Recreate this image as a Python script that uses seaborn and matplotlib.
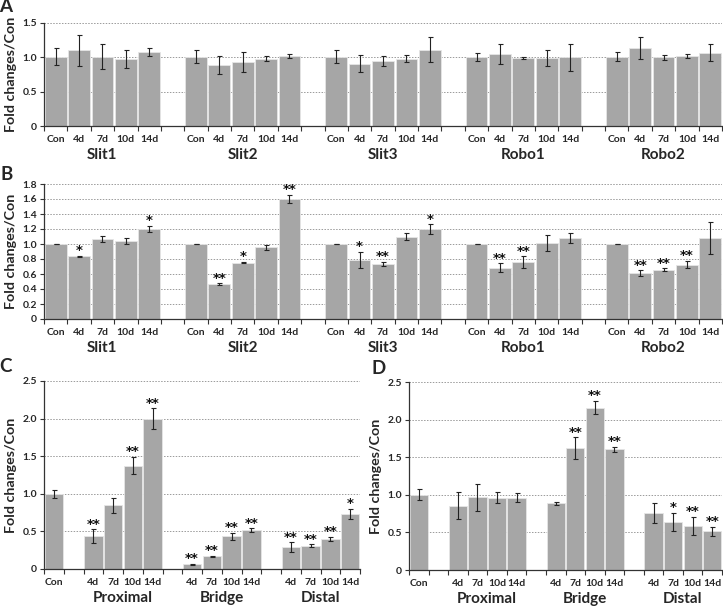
import matplotlib
matplotlib.use("Agg")
import matplotlib.pyplot as plt
import seaborn as sns
import pandas as pd
import numpy as np

sns.set_theme(style="white")
plt.rcParams['font.family'] = ['Lato', 'DejaVu Sans']
plt.rcParams['font.weight'] = 'bold'

# ---------------- data ----------------
time_points = ["Con", "4d", "7d", "10d", "14d"]
genes = ["Slit1", "Slit2", "Slit3", "Robo1", "Robo2"]

a_means = [1.01, 1.10, 1.01, 0.97, 1.08,
           1.01, 0.89, 0.93, 0.98, 1.02,
           1.01, 0.91, 0.95, 0.98, 1.11,
           1.01, 1.05, 0.99, 0.99, 1.00,
           1.01, 1.13, 1.00, 1.02, 1.07]
a_errs = [0.125, 0.22, 0.18, 0.13, 0.06,
          0.09, 0.13, 0.15, 0.035, 0.03,
          0.09, 0.13, 0.07, 0.055, 0.18,
          0.06, 0.14, 0.015, 0.11, 0.20,
          0.065, 0.16, 0.035, 0.03, 0.13]

b_means = [1.00, 0.836, 1.067, 1.04, 1.20,
           1.00, 0.467, 0.751, 0.956, 1.60,
           1.00, 0.787, 0.733, 1.098, 1.20,
           1.00, 0.684, 0.756, 1.013, 1.08,
           1.00, 0.609, 0.658, 0.724, 1.08]
b_errs = [0.005, 0.01, 0.045, 0.035, 0.04,
          0.005, 0.01, 0.01, 0.03, 0.055,
          0.005, 0.11, 0.03, 0.05, 0.065,
          0.005, 0.06, 0.08, 0.11, 0.065,
          0.005, 0.04, 0.02, 0.05, 0.21]
b_stars = ["", "*", "", "", "*",
           "", "**", "*", "", "**",
           "", "*", "**", "", "*",
           "", "**", "**", "", "",
           "", "**", "**", "**", ""]

regions = ["Proximal", "Bridge", "Distal"]
region_times = ["4d", "7d", "10d", "14d"]

c_con_mean, c_con_err = 1.00, 0.05
c_means = [0.438, 0.845, 1.376, 2.00,
           0.062, 0.168, 0.434, 0.518,
           0.288, 0.31, 0.403, 0.73]
c_errs = [0.09, 0.105, 0.115, 0.135,
          0.005, 0.01, 0.05, 0.025,
          0.065, 0.02, 0.025, 0.07]
c_stars = ["**", "", "**", "**",
           "**", "**", "**", "**",
           "**", "**", "**", "*"]

d_con_mean, d_con_err = 1.00, 0.075
d_means = [0.854, 0.965, 0.96, 0.96,
           0.885, 1.62, 2.159, 1.606,
           0.757, 0.637, 0.584, 0.513]
d_errs = [0.177, 0.18, 0.075, 0.06,
          0.02, 0.145, 0.09, 0.035,
          0.13, 0.12, 0.12, 0.065]
d_stars = ["", "", "", "",
           "", "**", "**", "**",
           "", "*", "**", "**"]

BAR = "#a6a6a6"
W, H = 723, 606


def ax_rect(left, right, top, bottom):
    return [left / W, (H - bottom) / H, (right - left) / W, (bottom - top) / H]


def draw_panel(ax, order, keys, labels, means, errs, stars, groups,
               ylim, yticks, yticklabels):
    df = pd.DataFrame({"key": keys, "mean": means})
    sns.barplot(data=df, x="key", y="mean", order=order, color=BAR,
                saturation=1, width=0.93, edgecolor="#e6e6e6", linewidth=0.6,
                errorbar=None, ax=ax)
    pos = np.array([order.index(k) for k in keys])
    ax.errorbar(pos, means, yerr=errs, fmt="none", ecolor="#222222",
                elinewidth=0.8, capsize=1.8, capthick=0.8, zorder=5)
    for p, m, e, s in zip(pos, means, errs, stars):
        if s:
            ax.annotate(s, xy=(p, m + e), xytext=(0, -1.0),
                        textcoords="offset points", ha="center",
                        va="bottom", fontsize=9.5, fontweight="bold",
                        family="DejaVu Sans", color="#111111")
    n = len(order)
    ax.set_xlim(-0.5, n - 0.5)
    ax.set_ylim(*ylim)
    ax.set_yticks(yticks)
    ax.set_yticklabels(yticklabels, fontsize=7.5, fontweight="bold")
    for y in yticks[1:]:
        ax.axhline(y, color="#9a9a9a", lw=0.7, ls=(0, (1.5, 1.5)), zorder=0)
    ax.set_xticks(np.arange(-0.5, n, 1.0))
    ax.set_xticklabels([])
    ax.set_xticks(pos, minor=True)
    ax.set_xticklabels(labels, minor=True, fontsize=7.5, fontweight="bold")
    ax.tick_params(axis="x", which="major", length=3.5, width=0.8,
                   direction="out", bottom=True, color="#333333")
    ax.tick_params(axis="x", which="minor", length=0, pad=6.5)
    ax.tick_params(axis="y", length=3, width=0.8, direction="out", left=True,
                   color="#333333", pad=2)
    ax.set_xlabel("")
    ax.set_ylabel("Fold changes/Con", fontsize=10.3, fontweight="bold",
                  labelpad=4)
    for sp in ["top", "right"]:
        ax.spines[sp].set_visible(False)
    for sp in ["left", "bottom"]:
        ax.spines[sp].set_color("#333333")
        ax.spines[sp].set_linewidth(0.9)
    for name, center in groups:
        ax.annotate(name, xy=(center, 0), xycoords=ax.get_xaxis_transform(),
                    xytext=(0, -21), textcoords="offset points",
                    ha="center", va="center", fontsize=11,
                    fontweight="bold")


fig = plt.figure(figsize=(W / 100, H / 100), dpi=100)

# ---- panels A and B: genes x time points with gap slots ----
gene_order, gene_keys, gene_labels, gene_groups = [], [], [], []
for gi, g in enumerate(genes):
    if gi > 0:
        gene_order.append(f"gap{gi}")
    start = len(gene_order)
    for t in time_points:
        gene_order.append(f"{g}|{t}")
        gene_keys.append(f"{g}|{t}")
        gene_labels.append(t)
    gene_groups.append((g, start + 2))

axA = fig.add_axes(ax_rect(44, 722, 23, 126))
draw_panel(axA, gene_order, gene_keys, gene_labels, a_means, a_errs,
           [""] * len(a_means), gene_groups, (0, 1.5), [0, 0.5, 1.0, 1.5],
           ["0", "0.5", "1.0", "1.5"])

b_ticks = [0, 0.2, 0.4, 0.6, 0.8, 1.0, 1.2, 1.4, 1.6, 1.8]
axB = fig.add_axes(ax_rect(44, 722, 184, 319))
draw_panel(axB, gene_order, gene_keys, gene_labels, b_means, b_errs,
           b_stars, gene_groups, (0, 1.8), b_ticks,
           ["0"] + [f"{v:.1f}" for v in b_ticks[1:]])

# ---- panels C and D: regions ----
reg_order = ["Con"]
reg_keys = ["Con"]
reg_labels = ["Con"]
reg_groups = []
for ri, r in enumerate(regions):
    reg_order.append(f"gap{ri}")
    start = len(reg_order)
    for t in region_times:
        reg_order.append(f"{r}|{t}")
        reg_keys.append(f"{r}|{t}")
        reg_labels.append(t)
    reg_groups.append((r, start + 1.5))

cd_ticks = [0, 0.5, 1.0, 1.5, 2.0, 2.5]
cd_ticklabels = ["0", "0.5", "1.0", "1.5", "2.0", "2.5"]

axC = fig.add_axes(ax_rect(44, 360, 381, 569))
draw_panel(axC, reg_order, reg_keys, reg_labels,
           [c_con_mean] + c_means, [c_con_err] + c_errs, [""] + c_stars,
           reg_groups, (0, 2.5), cd_ticks, cd_ticklabels)

axD = fig.add_axes(ax_rect(409, 722, 382, 570))
draw_panel(axD, reg_order, reg_keys, reg_labels,
           [d_con_mean] + d_means, [d_con_err] + d_errs, [""] + d_stars,
           reg_groups, (0, 2.5), cd_ticks, cd_ticklabels)

# panel letters
for letter, x, y in [("A", 6, 7), ("B", 7, 174), ("C", 5, 367), ("D", 379, 368)]:
    fig.text(x / W, 1 - y / H, letter, fontsize=13.5, fontweight="bold",
             ha="center", va="center")

fig.savefig("out.png", dpi=100)
